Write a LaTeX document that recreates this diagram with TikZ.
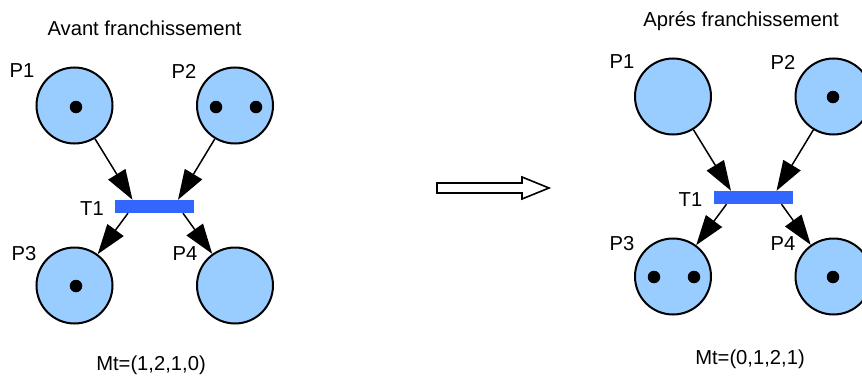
\documentclass[tikz,border=0pt]{standalone}
\usepackage{fontspec}
\setmainfont{Liberation Sans}
\usetikzlibrary{arrows.meta}
\definecolor{placefill}{RGB}{153,204,255}
\definecolor{barblue}{RGB}{51,102,255}
\tikzset{
  place/.style={circle,draw=black,line width=2pt,fill=placefill,minimum size=76pt,inner sep=0pt},
  tokendot/.style={circle,fill=black,minimum size=12.5pt,inner sep=0pt},
  transbar/.style={rectangle,fill=barblue,minimum width=79pt,minimum height=13pt,inner sep=0pt},
  lbl/.style={inner sep=0pt,font=\fontsize{20.2}{24}\selectfont},
  arc/.style={line width=1.5pt,-{Triangle[length=30pt,width=20pt]}}
}
\begin{document}
\begin{tikzpicture}[x=1pt,y=-1pt]
\clip (0,0) rectangle (862,380);
% ---------- left: avant ----------
\node[lbl,anchor=base] (titleA) at (144.5,35) {Avant franchissement};
\node[place] (A1) at (74.5,105.5) {};
\node[place] (A2) at (235,105.5) {};
\node[place] (A3) at (74.5,285.5) {};
\node[place] (A4) at (235,285.5) {};
\node[transbar] (AT) at (154.5,206.5) {};
\node[lbl] (A1l) at (22,71) {P1};
\node[lbl] (A2l) at (184,71) {P2};
\node[lbl] (A3l) at (24,254) {P3};
\node[lbl] (A4l) at (185,254) {P4};
\node[lbl] (ATl) at (92,209) {T1};
\node[tokendot] (A1t) at (76,107) {};
\node[tokendot] (A2t1) at (216,107) {};
\node[tokendot] (A2t2) at (256,107) {};
\node[tokendot] (A3t) at (76,286) {};
\draw[arc] (A1) -- ([xshift=-22pt]AT.north);
\draw[arc] (A2) -- ([xshift=23.5pt]AT.north);
\draw[arc] ([xshift=-26.5pt]AT.south) -- (A3);
\draw[arc] ([xshift=28.5pt]AT.south) -- (A4);
\node[lbl] (mA) at (151,365) {Mt=(1,2,1,0)};
% ---------- hollow arrow ----------
\draw[line width=1.6pt,fill=white] (437,183) -- (522,183) -- (522,177) -- (549,188) -- (522,199) -- (522,193) -- (437,193) -- cycle;
% ---------- right: apres ----------
\node[lbl,anchor=base] (titleB) at (741,26) {Aprés franchissement};
\node[place] (B1) at (673,96.5) {};
\node[place] (B2) at (833.5,96.5) {};
\node[place] (B3) at (673,276.5) {};
\node[place] (B4) at (833.5,276.5) {};
\node[transbar] (BT) at (753,197.5) {};
\node[lbl] (B1l) at (622,62) {P1};
\node[lbl] (B2l) at (783,62) {P2};
\node[lbl] (B3l) at (622,244) {P3};
\node[lbl] (B4l) at (783,244) {P4};
\node[lbl] (BTl) at (690.5,200) {T1};
\node[tokendot] (B2t) at (833,97) {};
\node[tokendot] (B3t1) at (654,277) {};
\node[tokendot] (B3t2) at (694,277) {};
\node[tokendot] (B4t) at (833,277) {};
\draw[arc] (B1) -- ([xshift=-22pt]BT.north);
\draw[arc] (B2) -- ([xshift=23.5pt]BT.north);
\draw[arc] ([xshift=-26.5pt]BT.south) -- (B3);
\draw[arc] ([xshift=28.5pt]BT.south) -- (B4);
\node[lbl] (mB) at (750,359) {Mt=(0,1,2,1)};
\end{tikzpicture}
\end{document}
